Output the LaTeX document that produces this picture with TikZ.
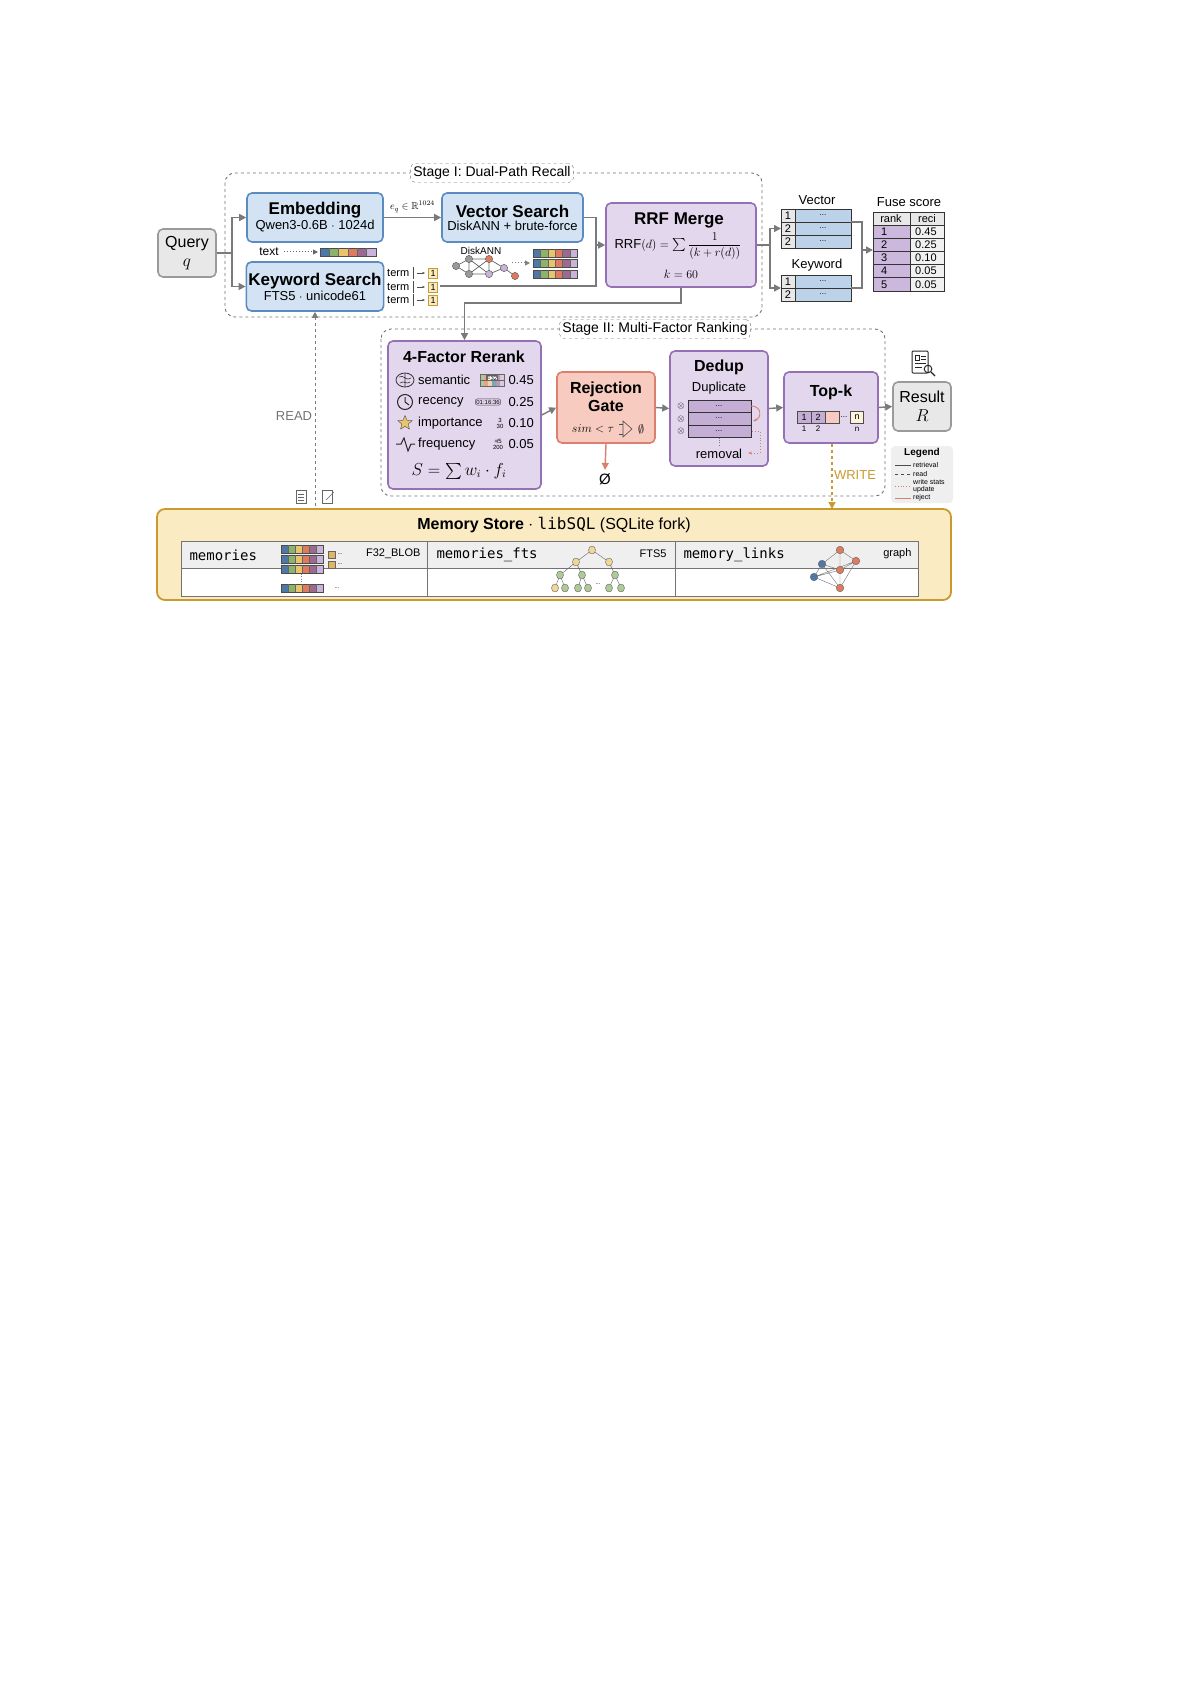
\documentclass[tikz,border=0pt]{standalone}
\usepackage{fontspec}
\setmainfont{Liberation Sans}
\newfontfamily\monof{DejaVu Sans Mono}
\usepackage{amsmath,amssymb}
\usetikzlibrary{shapes.geometric,arrows.meta,positioning}
\definecolor{bfill}{HTML}{D3E3F3}\definecolor{bdraw}{HTML}{5B8CC0}
\definecolor{pfill}{HTML}{E3D7ED}\definecolor{pdraw}{HTML}{9670B4}
\definecolor{sfill}{HTML}{F7CBC0}\definecolor{sdraw}{HTML}{D9806F}
\definecolor{gfill}{HTML}{E8E8E8}\definecolor{gdraw}{HTML}{9A9A9A}
\definecolor{yfill}{HTML}{FBEBC3}\definecolor{ydraw}{HTML}{C99A2E}
\definecolor{c1}{HTML}{4E79A7}\definecolor{c2}{HTML}{8CB369}\definecolor{c3}{HTML}{E9C46A}
\definecolor{c4}{HTML}{E07A5F}\definecolor{c5}{HTML}{9B6A8F}\definecolor{c6}{HTML}{C9B3D9}
\definecolor{arr}{HTML}{7A7A7A}
\newcommand\mystrip[3]{% x y cellwidth
 \foreach \c [count=\i from 0] in {c1,c2,c3,c4,c5,c6}{\fill[\c] (#1+\i*#3,#2-4) rectangle ++(#3,8);}
 \draw[black!70,line width=0.6] (#1,#2-4) rectangle ++(6*#3,8);
 \foreach \i in {1,...,5}{\draw[black!60,line width=0.4] (#1+\i*#3,#2-4)--++(0,8);}}
\newcommand\fs[2]{\fontsize{#1}{#2}\selectfont}
\tikzset{
 box/.style={rounded corners=5pt,line width=1.6pt,align=center,inner sep=2pt},
 bluebox/.style={box,fill=bfill,draw=bdraw,minimum width=136pt,minimum height=49pt},
 purplebox/.style={box,fill=pfill,draw=pdraw},
 flow/.style={draw=arr,line width=1.4pt,-{Triangle[length=7pt,width=7pt]}},
 flowl/.style={draw=arr,line width=1.4pt},
 stage/.style={draw=black!55,dashed,line width=0.9pt,rounded corners=10pt},
 stagelab/.style={draw=black!55,dashed,rounded corners=5pt,fill=white,inner sep=3pt,font=\fs{14}{16}},
 cell/.style={draw=black!80,line width=0.6pt},
}
\begin{document}
\begin{tikzpicture}[x=1pt,y=-1pt]
\useasboundingbox (0,0) rectangle (1192,1685);
% stages
\draw[stage] (225,173) rectangle (762,317);
\node[stagelab] (s1) at (492,173) {Stage I: Dual-Path Recall};
\draw[stage] (381,329) rectangle (885,496);
\node[stagelab] (s2) at (655,329) {Stage II: Multi-Factor Ranking};
% nodes
\node[box,fill=gfill,draw=gdraw,minimum width=58pt,minimum height=48pt,font=\fs{16}{19}] (q) at (187,253) {Query\\$q$};
\node[bluebox] (emb) at (315,217.5) {{\bfseries\fs{17}{20}Embedding}\\[1pt]{\fs{13}{15}Qwen3-0.6B $\cdot$ 1024d}};
\node[bluebox] (kw) at (315,286.5) {{\bfseries\fs{17}{20}Keyword Search}\\[1pt]{\fs{13}{15}FTS5 $\cdot$ unicode61}};
\node[bluebox,minimum width=141pt] (vs) at (512.5,217.5) {{\bfseries\fs{17}{20}Vector Search}\\[1pt]{\fs{13}{15}DiskANN + brute-force}};
\node[purplebox,minimum width=150pt,minimum height=84pt] (rrf) at (681,245) {};
\node[font=\bfseries\fs{17}{20}] (rrft) at (679,220) {RRF Merge};
\node[font=\fs{13}{15}] (rrff) at (678,246) {RRF$(d)=\sum\dfrac{1}{(k+r(d))}$};
\node[font=\fs{13}{15}] (rrfk) at (681,274) {$k=60$};
% Query arrows
\coordinate (qs) at (232,253);
\draw[flowl] (q.east)--(qs);
\draw[flow] (qs)|-(emb.west);
\draw[flow] (qs)|-(kw.west);
\draw[flow] (emb.east)--node[above,font=\fs{10}{12},yshift=1pt]{$e_q\in\mathbb{R}^{1024}$}(vs.west);
% text strip
\node[font=\fs{12}{14}] (txt) at (269,252) {text};
\draw[black!60,dotted,line width=1pt,-{Triangle[length=5pt,width=5pt]}] (284,252)--(318,252);
\mystrip{320}{252}{9.3}
% diskann graph
\node[font=\fs{10}{12}] (dl) at (481,251) {DiskANN};
\coordinate (g1) at (456,266);\coordinate (g2) at (469,259);\coordinate (g3) at (469,274);
\coordinate (g4) at (489,259);\coordinate (g5) at (489,274);\coordinate (g6) at (504,268);\coordinate (g7) at (515,276);
\draw[black!60,line width=0.7] (g1)--(g2)--(g4)--(g6)--(g7) (g1)--(g3)--(g5)--(g6) (g2)--(g3) (g2)--(g5) (g3)--(g4) (g4)--(g5);
\foreach \p/\c in {g1/gdraw,g2/gdraw,g3/gdraw,g4/c4,g5/c6,g6/c6,g7/c4}{\fill[\c] (\p) circle (3.6);\draw[black!60,line width=0.5] (\p) circle (3.6);}
\draw[black!50,dotted,line width=1pt,-{Triangle[length=5pt,width=5pt]}] (512,263)--(530,263);
\mystrip{533}{253}{7.4}\mystrip{533}{263}{7.4}\mystrip{533}{274}{7.4}
% terms
\foreach \y in {273,287,300}{
 \node[font=\fs{11}{12},anchor=west,inner sep=0] at (387,\y) {term};
 \draw[black!70] (413,\y-6)--(413,\y+6);
 \draw[black!70,-{Stealth[length=3pt]}] (417,\y)--(425,\y);
 \node[draw=ydraw,fill=yfill,font=\fs{9}{10},inner sep=1pt,minimum width=9pt,minimum height=10pt] at (433,\y) {1};}
% connections to RRF
\coordinate (j1) at (596,217.5);\coordinate (j2) at (596,286);
\draw[flowl] (vs.east)--(j1)--(596,245);
\draw[flowl] (440,286)--(j2)--(596,245);
\draw[flow] (596,245)--(rrf.west);
% tables Vector / Keyword
\node[font=\fs{13}{15}] (vl) at (817,200) {Vector};
\foreach \i/\n in {0/1,1/2,2/2}{
 \fill[gfill] (781,209+\i*13) rectangle ++(14,13);\fill[bfill!80!bdraw] (795,209+\i*13) rectangle ++(56,13);
 \draw[cell] (781,209+\i*13) rectangle ++(70,13); \draw[cell] (795,209+\i*13)--++(0,13);
 \node[font=\fs{11}{12},inner sep=0] at (788,215.5+\i*13) {\n};\node[font=\fs{8}{9},inner sep=0] at (823,215.5+\i*13) {...};}
\node[font=\fs{13}{15}] (kl) at (817,265) {Keyword};
\foreach \i/\n in {0/1,1/2}{
 \fill[gfill] (781,275+\i*13) rectangle ++(14,13);\fill[bfill!80!bdraw] (795,275+\i*13) rectangle ++(56,13);
 \draw[cell] (781,275+\i*13) rectangle ++(70,13); \draw[cell] (795,275+\i*13)--++(0,13);
 \node[font=\fs{11}{12},inner sep=0] at (788,281.5+\i*13) {\n};\node[font=\fs{8}{9},inner sep=0] at (823,281.5+\i*13) {...};}
\coordinate (r1) at (770,245);
\draw[flowl] (rrf.east)--(r1);
\draw[flow] (r1)|-(781,228.5);
\draw[flow] (r1)|-(781,288);
\coordinate (f1) at (862,250);
\draw[flowl] (851,222)--(862,222)--(f1);
\draw[flowl] (851,288)--(862,288)--(f1);
\draw[flow] (f1)--(873,250);
% fuse score
\node[font=\fs{13}{15}] (fl) at (909,202) {Fuse score};
\fill[gfill] (873,212) rectangle (944,225);
\draw[cell] (873,212) rectangle (944,225);\draw[cell] (910,212)--(910,225);
\node[font=\fs{11}{12},inner sep=0] at (891,218.5) {rank};\node[font=\fs{11}{12},inner sep=0] at (927,218.5) {reci};
\foreach \i/\v in {0/0.45,1/0.25,2/0.10,3/0.05,4/0.05}{
 \fill[pfill!70!pdraw] (873,225+\i*13.2) rectangle (910,238.2+\i*13.2);\fill[gfill!60] (910,225+\i*13.2) rectangle (944,238.2+\i*13.2);
 \draw[cell] (873,225+\i*13.2) rectangle (944,238.2+\i*13.2);\draw[cell] (910,225+\i*13.2)--++(0,13.2);
 \pgfmathtruncatemacro\k{\i+1}
 \node[font=\fs{11}{12},inner sep=0,anchor=west] at (881,231.6+\i*13.2) {\k};\node[font=\fs{11}{12},inner sep=0,anchor=west] at (915,231.6+\i*13.2) {\v};}
% stage II nodes
\node[purplebox,minimum width=153pt,minimum height=148pt] (rer) at (464.5,415) {};
\node[font=\bfseries\fs{16}{19}] (rert) at (464,357) {4-Factor Rerank};
\begin{scope}[font=\fs{13}{15}]
\node[anchor=west,inner sep=0] at (418,380) {semantic};
\node[anchor=west,inner sep=0] at (418,402) {recency};
\node[anchor=west,inner sep=0] at (418,423) {importance};
\node[anchor=west,inner sep=0] at (418,444) {frequency};
\node[anchor=east,inner sep=0] at (534,380) {0.45};
\node[anchor=east,inner sep=0] at (534,402) {0.25};
\node[anchor=east,inner sep=0] at (534,423) {0.10};
\node[anchor=east,inner sep=0] at (534,444) {0.05};
\end{scope}
% icons
\draw[black!80,line width=0.8] (405,380) ellipse (9 and 7);
\draw[black!80,line width=0.6] (399,377) .. controls (403,374) and (407,382) .. (411,378) (400,383) .. controls (404,380) and (407,385) .. (410,382) (405,373)--(405,387);
\draw[black!85,line width=1] (405,402) circle (7.5);\draw[black!85,line width=1] (405,397)--(405,402)--(409,405);
\node[star,star points=5,star point ratio=2.2,fill=c3,draw=black!70,minimum size=15pt,inner sep=0] (starI) at (405,423) {};
\draw[black!85,line width=1] (396,444)--(401,444)--(404,438)--(408,451)--(411,444)--(415,444);
\foreach \c [count=\i from 0] in {c2,c4,c3,c1,c5,c6}{\fill[\c!70] (480+\i*4,374) rectangle ++(4,12);}
\draw[black!60,line width=0.4] (480,374) rectangle (504,386);\draw[black!60,line width=0.3] (480,380)--(504,380);
\node[draw=black!60,fill=white,font=\fs{6}{7},inner sep=0.5pt] at (492,378) {F32};
\node[draw=black!70,rounded corners=2pt,font=\fs{6}{7},inner sep=1pt] at (488,402) {01:16:36};
\node[font=\fs{6}{6},align=center,inner sep=0] at (500,423) {3\\30};
\node[font=\fs{6}{6},align=center,inner sep=0] at (498,444) {+\!/5\\200};
\node[font=\fs{16}{19}] (sform) at (459,471) {$S=\sum w_i\cdot f_i$};
% rejection gate
\node[box,fill=sfill,draw=sdraw,minimum width=98pt,minimum height=71pt] (gate) at (606,407.5) {};
\node[font=\bfseries\fs{16}{18},align=center] at (606,397) {Rejection\\Gate};
\node[font=\fs{13}{15}] at (593,429) {$sim<\tau$};
\draw[black!70,line width=0.6] (623,421) -- (623,437) -- (632,429) -- cycle;\draw[black!70,line width=0.6] (619,424)--(623,424) (619,434)--(623,434);
\node[font=\fs{13}{15}] at (641,429) {$\emptyset$};
\node[font=\fs{15}{17}] (empty) at (605,479) {Ø};
\draw[draw=sdraw,line width=1.4pt,-{Triangle[length=7pt,width=7pt]}] (gate.south)--(empty.north);
% dedup
\node[purplebox,minimum width=98pt,minimum height=115pt] (ded) at (719,408.5) {};
\node[font=\bfseries\fs{16}{19}] at (719,367) {Dedup};
\node[font=\fs{13}{15}] at (719,388) {Duplicate};
\foreach \i in {0,1,2}{
 \fill[pfill!60!pdraw] (688,400+\i*12.5) rectangle ++(63,12.5);\draw[black!80,line width=0.7] (688,400+\i*12.5) rectangle ++(63,12.5);
 \node[font=\fs{8}{9},inner sep=0] at (719,406+\i*12.5) {...};
 \node[font=\fs{9}{10},inner sep=0] at (681,406.5+\i*12.5) {$\otimes$};}
\draw[black!50,dotted] (719,437.5)--(719,447);
\node[font=\fs{13}{15}] at (719,454) {removal};
\draw[sdraw,line width=0.9,-{Stealth[length=4pt]}] (751,406) .. controls (762,406) and (762,418) .. (753,421);
\draw[sdraw,line width=0.9,dotted,-{Stealth[length=4pt]}] (752,431)--(760,431)--(760,453)--(748,453);
% top-k
\node[purplebox,minimum width=94pt,minimum height=71pt] (topk) at (831,407.5) {};
\node[font=\bfseries\fs{16}{19}] at (831,392) {Top-k};
\fill[pfill!60!pdraw] (797,411) rectangle (811,423);\fill[pfill!60!pdraw] (811,411) rectangle (825,423);\fill[sfill] (825,411) rectangle (839,423);
\draw[black!70,line width=0.6] (797,411) rectangle (839,423) (811,411)--(811,423) (825,411)--(825,423);
\node[font=\fs{9}{10},inner sep=0] at (804,417) {1};\node[font=\fs{9}{10},inner sep=0] at (818,417) {2};
\node[font=\fs{8}{9},inner sep=0] at (844,417) {...};
\node[draw=black!70,fill=yfill!60,font=\fs{9}{10},minimum width=13pt,minimum height=12pt,inner sep=0] at (857,417) {n};
\node[font=\fs{8}{9},inner sep=0] at (804,429) {1};\node[font=\fs{8}{9},inner sep=0] at (818,429) {2};\node[font=\fs{8}{9},inner sep=0] at (857,429) {n};
% result
\node[box,fill=gfill,draw=gdraw,minimum width=58pt,minimum height=49pt,font=\fs{16}{19}] (res) at (922,406.5) {Result\\$R$};
\draw[black!85,line width=1,rounded corners=1pt] (912,351) rectangle (928,373);
\draw[black!85,line width=0.8] (915,355) rectangle (919,360) (921,356)--(926,356) (921,359)--(926,359) (915,363)--(926,363) (915,367)--(922,367);
\draw[black!85,line width=1] (928,369) circle (3.8);\draw[black!85,line width=1.2] (931,372)--(935,376);
% stage arrows
\draw[flow] (rer.east)--(gate.west);
\draw[flow] (gate.east)--(ded.west);
\draw[flow] (ded.east)--(topk.west);
\draw[flow] (topk.east)--(res.west);
\coordinate (rb) at (681,303);
\draw[flow] (rrf.south)--(rb)-|(rer.north);
% legend
\node[fill=gfill!70,rounded corners=4pt,minimum width=62pt,minimum height=57pt] (leg) at (922,474.5) {};
\node[font=\bfseries\fs{10}{11}] at (922,453) {Legend};
\draw[black!70,line width=0.8] (895,465)--(911,465);\node[anchor=west,font=\fs{7}{7},inner sep=0] at (913,465) {retrieval};
\draw[black!70,line width=0.8,dashed] (895,474)--(911,474);\node[anchor=west,font=\fs{7}{7},inner sep=0] at (913,474) {read};
\draw[sdraw,line width=0.8,dotted] (895,486)--(911,486);\node[anchor=west,font=\fs{7}{7},inner sep=0,align=left] at (913,486) {write stats\\update};
\draw[sdraw,line width=0.8] (895,498)--(911,498);\node[anchor=west,font=\fs{7}{7},inner sep=0] at (913,498) {reject};
% memory store
\node[box,fill=yfill,draw=ydraw,line width=1.8pt,rounded corners=8pt,minimum width=794pt,minimum height=91pt] (mem) at (554,554.5) {};
\node[font=\fs{16}{19}] at (554,525) {\textbf{Memory Store} $\cdot$ {\monof libSQL} (SQLite fork)};
\fill[white] (181,541) rectangle (918,596);\fill[gfill!70] (181,541) rectangle (918,568);
\draw[black!55,line width=0.8] (181,541) rectangle (918,596) (181,568)--(918,568) (427,541)--(427,596) (675,541)--(675,596);
\node[anchor=west,font=\monof\fs{14}{16}] at (186,555) {memories};
\node[anchor=west,font=\monof\fs{14}{16}] at (433,555) {memories\_fts};
\node[anchor=west,font=\monof\fs{14}{16}] at (680,555) {memory\_links};
\node[anchor=east,font=\fs{11}{12}] at (424,554) {F32\_BLOB};
\node[anchor=east,font=\fs{11}{12}] at (670,554) {FTS5};
\node[anchor=east,font=\fs{11}{12}] at (915,554) {graph};
\mystrip{281}{549}{7}\mystrip{281}{559}{7}\mystrip{281}{569}{7}\mystrip{281}{588}{7}
\draw[black!50,dotted] (301,574)--(301,583);
\fill[c3!80!brown,draw=black!60] (328,551) rectangle ++(7,7);\fill[c3!80!brown,draw=black!60] (328,561) rectangle ++(7,7);
\node[font=\fs{6}{6}] at (340,554) {...};\node[font=\fs{6}{6}] at (340,564) {...};\node[font=\fs{6}{6}] at (337,588) {...};
% tree
\coordinate (t0) at (592,550);\coordinate (t1) at (576,562);\coordinate (t2) at (609,562);
\coordinate (t3) at (560,575);\coordinate (t4) at (582,575);\coordinate (t5) at (615,575);
\foreach \p/\a/\b in {t3/555/565,t4/578/588,t5/609/621}{\draw[black!60] (\p)--(\a,588) (\p)--(\b,588);}
\draw[black!60] (t0)--(t1)--(t3) (t1)--(t4) (t0)--(t2)--(t5);
\foreach \p/\c in {t0/c3,t1/c3,t2/c3,t3/c2,t4/c2,t5/c2}{\fill[\c!70] (\p) ellipse (3.5 and 4);\draw[black!60] (\p) ellipse (3.5 and 4);}
\foreach \x/\c in {555/c3,565/c2,578/c2,588/c2,609/c2,621/c2}{\fill[\c!70] (\x,588) ellipse (3.5 and 4);\draw[black!60] (\x,588) ellipse (3.5 and 4);}
\node[font=\fs{6}{6}] at (598,584) {...};
% graph
\coordinate (n1) at (840,550);\coordinate (n2) at (822,564);\coordinate (n3) at (856,561);
\coordinate (n4) at (840,570);\coordinate (n5) at (814,577);\coordinate (n6) at (840,588);
\draw[black!55] (n1)--(n2)--(n5)--(n4) (n1)--(n4)--(n6)--(n5) (n1)--(n3)--(n4) (n3)--(n6) (n2)--(n4) (n2)--(n6) (n5)--(n3);
\foreach \p/\c in {n1/c4,n2/c1,n3/c4,n4/c4,n5/c1,n6/c4}{\fill[\c] (\p) circle (3.8);\draw[black!60] (\p) circle (3.8);}
% read / write
\coordinate (rd) at (315,506);
\draw[draw=arr,dashed,line width=1pt,-{Triangle[length=6pt,width=6pt]}] (rd)--(kw.south);
\node[font=\fs{13}{15},text=black!55] at (294,416) {READ};
\draw[black!60,line width=0.6] (296,490) rectangle (306,503);\draw[black!60,line width=0.4] (298,494)--(304,494) (298,497)--(304,497) (298,500)--(304,500);
\draw[black!60,line width=0.6] (322,490) rectangle (332,503);\draw[black!60,line width=0.6] (326,500)--(334,492);
\draw[draw=ydraw,dashed,line width=1.4pt,-{Triangle[length=7pt,width=7pt]}] (topk.south-|832,0)--(832,509);
\node[font=\fs{13}{15},text=ydraw] at (855,475) {WRITE};
\end{tikzpicture}
\end{document}
